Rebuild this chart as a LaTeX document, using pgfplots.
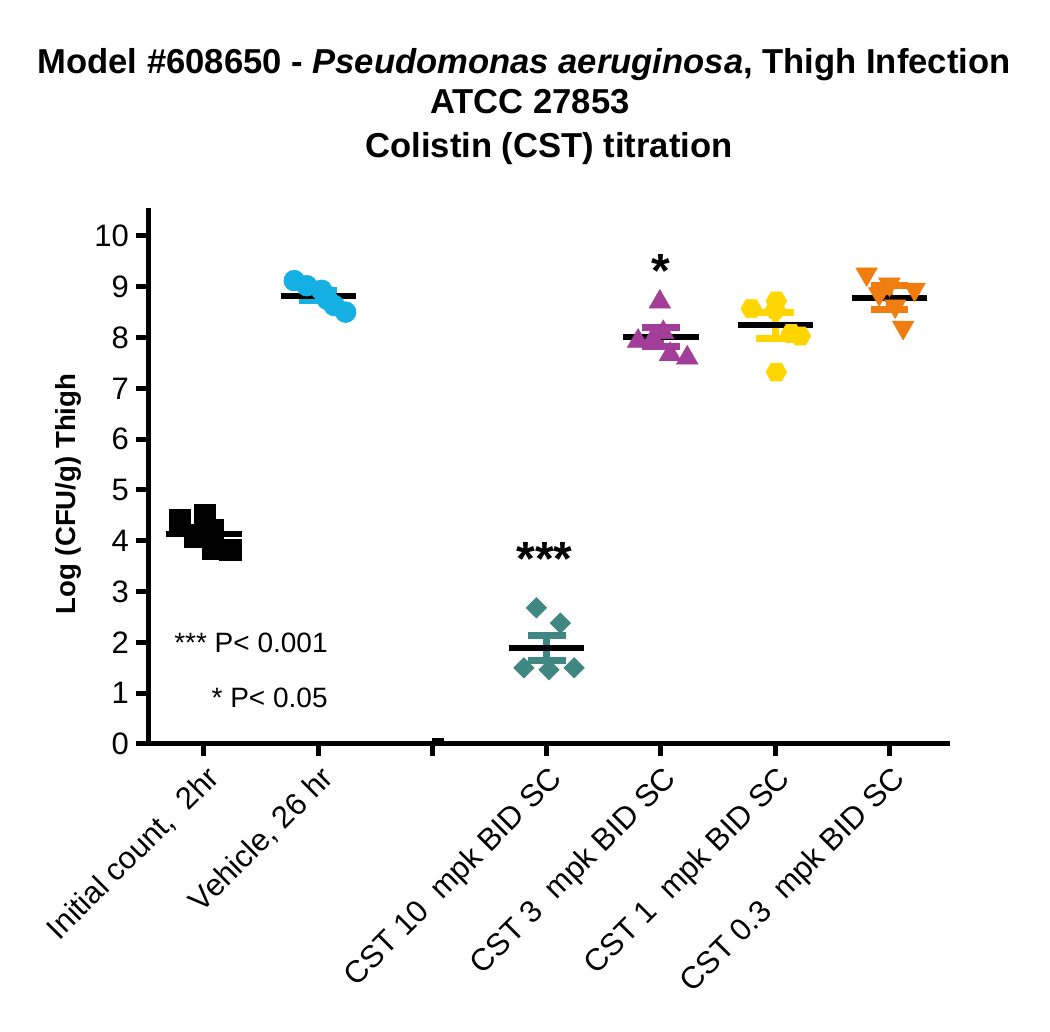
\documentclass[border=0pt]{standalone}
\usepackage{fontspec}
\setmainfont{Liberation Sans}
\usepackage{pgfplots}
\pgfplotsset{compat=1.18}
\definecolor{cblue}{RGB}{20,176,228}
\definecolor{cteal}{RGB}{64,135,132}
\definecolor{cpurple}{RGB}{163,62,152}
\definecolor{cyellow}{RGB}{255,214,0}
\definecolor{corange}{RGB}{240,125,15}
\pgfdeclareplotmark{hexagon*}{%
  \pgfpathmoveto{\pgfqpointpolar{0}{\pgfplotmarksize}}%
  \pgfpathlineto{\pgfqpointpolar{60}{\pgfplotmarksize}}%
  \pgfpathlineto{\pgfqpointpolar{120}{\pgfplotmarksize}}%
  \pgfpathlineto{\pgfqpointpolar{180}{\pgfplotmarksize}}%
  \pgfpathlineto{\pgfqpointpolar{240}{\pgfplotmarksize}}%
  \pgfpathlineto{\pgfqpointpolar{300}{\pgfplotmarksize}}%
  \pgfpathclose
  \pgfusepathqfillstroke}
\begin{document}
\begin{tikzpicture}
\path[use as bounding box] (0,0) rectangle (525pt,516pt);
\begin{axis}[
  at={(74pt,144pt)}, anchor=south west,
  scale only axis, width=401pt, height=268pt,
  xmin=-0.49, xmax=6.53, ymin=0, ymax=10.55,
  clip=false,
  axis x line*=bottom, axis y line*=left,
  axis line style={line width=2.5pt, black},
  tick style={line width=2.5pt, black},
  major tick length=6pt, tick align=outside,
  xtick={0,1,2,3,4,5,6}, ytick={0,1,...,10},
  xticklabels={{Initial count,\ \ 2hr},{Vehicle, 26 hr},{},{CST 10\ \ mpk BID SC},{CST 3\ \ mpk BID SC},{CST 1\ \ mpk BID SC},{CST 0.3\ \ mpk BID SC}},
  xticklabel style={rotate=45, anchor=north east, font=\fontsize{15.5}{18}\selectfont, inner sep=1pt, xshift=-1.5pt, yshift=-2pt},
  yticklabel style={font=\fontsize{15.5}{18}\selectfont},
  /pgf/number format/assume math mode=true,
]
% points
\addplot[only marks, mark=square*, mark size=5.3pt, mark options={fill=black, draw=black, line width=0.3pt}]
  coordinates {(-0.21,4.42) (0.01,4.50) (-0.08,4.08) (0.08,4.22) (0.08,3.85) (0.23,3.83)};
\addplot[only marks, mark=*, mark size=5.2pt, mark options={fill=cblue, draw=cblue, line width=0.3pt}]
  coordinates {(0.79,9.12) (0.90,9.02) (1.03,8.93) (1.08,8.75) (1.14,8.63) (1.24,8.50)};
\addplot[only marks, mark=square*, mark size=3.6pt, mark options={rotate=45, fill=cteal, draw=cteal, line width=0.3pt}]
  coordinates {(2.91,2.68) (3.12,2.38) (2.80,1.50) (3.02,1.46) (3.24,1.50)};
\addplot[only marks, mark=triangle*, mark size=6.2pt, mark options={fill=cpurple, draw=cpurple, line width=0.3pt}]
  coordinates {(3.99,8.70) (3.80,7.93) (3.93,7.97) (4.08,7.67) (4.23,7.60) (4.02,8.10)};
\addplot[only marks, mark=hexagon*, mark size=5.2pt, mark options={fill=cyellow, draw=cyellow, line width=0.3pt}]
  coordinates {(4.79,8.57) (5.01,8.72) (5.00,8.55) (5.22,8.03) (5.14,8.08) (5.01,7.32)};
\addplot[only marks, mark=triangle*, mark size=6.2pt, mark options={rotate=180, fill=corange, draw=corange, line width=0.3pt}]
  coordinates {(5.80,9.25) (6.00,9.05) (6.22,8.95) (5.91,8.86) (6.12,8.20) (6.05,8.62)};
% SEM bars
\addplot[black, line width=3.5pt] coordinates {(0,4.025) (0,4.255)};
\addplot[black, line width=3.5pt] coordinates {(-0.165,4.255) (0.165,4.255)};
\addplot[black, line width=3.5pt] coordinates {(-0.165,4.025) (0.165,4.025)};
\addplot[cblue, line width=3.5pt] coordinates {(1,8.72) (1,8.92)};
\addplot[cblue, line width=3.5pt] coordinates {(0.835,8.92) (1.165,8.92)};
\addplot[cblue, line width=3.5pt] coordinates {(0.835,8.72) (1.165,8.72)};
\addplot[cteal, line width=3.5pt] coordinates {(3,1.645) (3,2.135)};
\addplot[cteal, line width=3.5pt] coordinates {(2.835,2.135) (3.165,2.135)};
\addplot[cteal, line width=3.5pt] coordinates {(2.835,1.645) (3.165,1.645)};
\addplot[cpurple, line width=3.5pt] coordinates {(4,7.83) (4,8.19)};
\addplot[cpurple, line width=3.5pt] coordinates {(3.835,8.19) (4.165,8.19)};
\addplot[cpurple, line width=3.5pt] coordinates {(3.835,7.83) (4.165,7.83)};
\addplot[cyellow, line width=3.5pt] coordinates {(5,7.99) (5,8.50)};
\addplot[cyellow, line width=3.5pt] coordinates {(4.835,8.50) (5.165,8.50)};
\addplot[cyellow, line width=3.5pt] coordinates {(4.835,7.99) (5.165,7.99)};
\addplot[corange, line width=3.5pt] coordinates {(6,8.55) (6,9.02)};
\addplot[corange, line width=3.5pt] coordinates {(5.835,9.02) (6.165,9.02)};
\addplot[corange, line width=3.5pt] coordinates {(5.835,8.55) (6.165,8.55)};
% means
\addplot[black, line width=3pt] coordinates {(-0.33,4.14) (0.33,4.14)};
\addplot[black, line width=3pt] coordinates {(0.67,8.82) (1.33,8.82)};
\addplot[black, line width=3pt] coordinates {(2.0,0.05) (2.1,0.05)};
\addplot[black, line width=3pt] coordinates {(2.67,1.89) (3.33,1.89)};
\addplot[black, line width=3pt] coordinates {(3.67,8.01) (4.33,8.01)};
\addplot[black, line width=3pt] coordinates {(4.67,8.245) (5.33,8.245)};
\addplot[black, line width=3pt] coordinates {(5.67,8.78) (6.33,8.78)};
% annotations
\node[anchor=center, font=\fontsize{24}{28}\selectfont\bfseries] at (axis cs:2.98,3.64) {***};
\node[anchor=center, font=\fontsize{24}{28}\selectfont\bfseries] at (axis cs:4.0,9.31) {*};
\node[anchor=base east, font=\fontsize{14}{17}\selectfont, inner sep=0pt] at (axis cs:1.086,1.795) {*** P< 0.001};
\node[anchor=base east, font=\fontsize{14}{17}\selectfont, inner sep=0pt] at (axis cs:1.086,0.71) {* P< 0.05};
\end{axis}
\node[rotate=90, font=\fontsize{13.8}{16}\selectfont\bfseries] at (34pt,269pt) {Log (CFU/g) Thigh};
\node[anchor=base, font=\fontsize{17.3}{21}\selectfont\bfseries] at (262pt,479pt) {Model \#608650 - \textit{Pseudomonas aeruginosa}, Thigh Infection};
\node[anchor=base, font=\fontsize{17.3}{21}\selectfont\bfseries] at (265pt,459pt) {ATCC 27853};
\node[anchor=base, font=\fontsize{17.3}{21}\selectfont\bfseries] at (274.5pt,437pt) {Colistin (CST) titration};
\end{tikzpicture}
\end{document}
